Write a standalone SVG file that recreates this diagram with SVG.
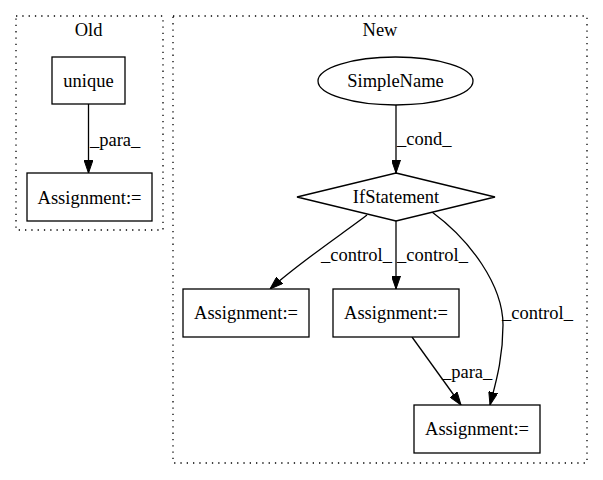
<svg xmlns="http://www.w3.org/2000/svg" width="603" height="480" viewBox="0 0 603 480">
<style>
text{font-family:"Liberation Serif","Times New Roman",serif;font-size:18.5px;fill:#000}
.c{text-anchor:middle}
.cl{fill:none;stroke:#000;stroke-width:1.3;stroke-dasharray:1.3,5}
.n{fill:#fff;stroke:#000;stroke-width:1.3}
.e{fill:none;stroke:#000;stroke-width:1.3;marker-end:url(#ah)}
</style>
<defs>
<marker id="ah" viewBox="0 0 13 9" refX="13" refY="4.5" markerWidth="13" markerHeight="9" markerUnits="userSpaceOnUse" orient="auto">
<path d="M0,0 L13,4.5 L0,9 z" fill="#000" stroke="#000"/>
</marker>
</defs>
<rect width="603" height="480" fill="#fff"/>
<g id="cluster_old">
<rect class="cl" x="16" y="16" width="147" height="214"/>
<text class="c" x="88.5" y="36">Old</text>
</g>
<g id="cluster_new">
<rect class="cl" x="173" y="16" width="414" height="447"/>
<text class="c" x="380" y="36">New</text>
</g>
<g id="edges">
<path class="e" d="M88.5,104 L88.5,173"/>
<text x="90" y="146">_para_</text>
<path class="e" d="M396,105 L396,173"/>
<text x="397" y="145">_cond_</text>
<path class="e" d="M367,215 C345,232 300,262 270,289"/>
<text x="321" y="261">_control_</text>
<path class="e" d="M396,221 L396,289"/>
<text x="397" y="261">_control_</text>
<path class="e" d="M432,212 C470,240 503,285 503,325 C503,360 495,385 490,405"/>
<text x="502" y="319">_control_</text>
<path class="e" d="M412,337 L461,405"/>
<text x="442" y="378">_para_</text>
</g>
<g id="unique">
<rect class="n" x="52" y="57" width="73" height="47"/>
<text class="c" x="88.5" y="87">unique</text>
</g>
<g id="old_assign">
<rect class="n" x="27" y="173" width="125" height="48"/>
<text class="c" x="89.5" y="204">Assignment:=</text>
</g>
<g id="simplename">
<ellipse class="n" cx="395.5" cy="81" rx="77.5" ry="24"/>
<text class="c" x="395.5" y="87">SimpleName</text>
</g>
<g id="ifstatement">
<polygon class="n" points="396,173 495,197 396,221 297,197"/>
<text class="c" x="396" y="203">IfStatement</text>
</g>
<g id="assign_left">
<rect class="n" x="183" y="289" width="126" height="48"/>
<text class="c" x="246" y="319">Assignment:=</text>
</g>
<g id="assign_mid">
<rect class="n" x="333" y="289" width="126" height="48"/>
<text class="c" x="396" y="319">Assignment:=</text>
</g>
<g id="assign_bottom">
<rect class="n" x="414" y="405" width="126" height="48"/>
<text class="c" x="477" y="435">Assignment:=</text>
</g>
</svg>
